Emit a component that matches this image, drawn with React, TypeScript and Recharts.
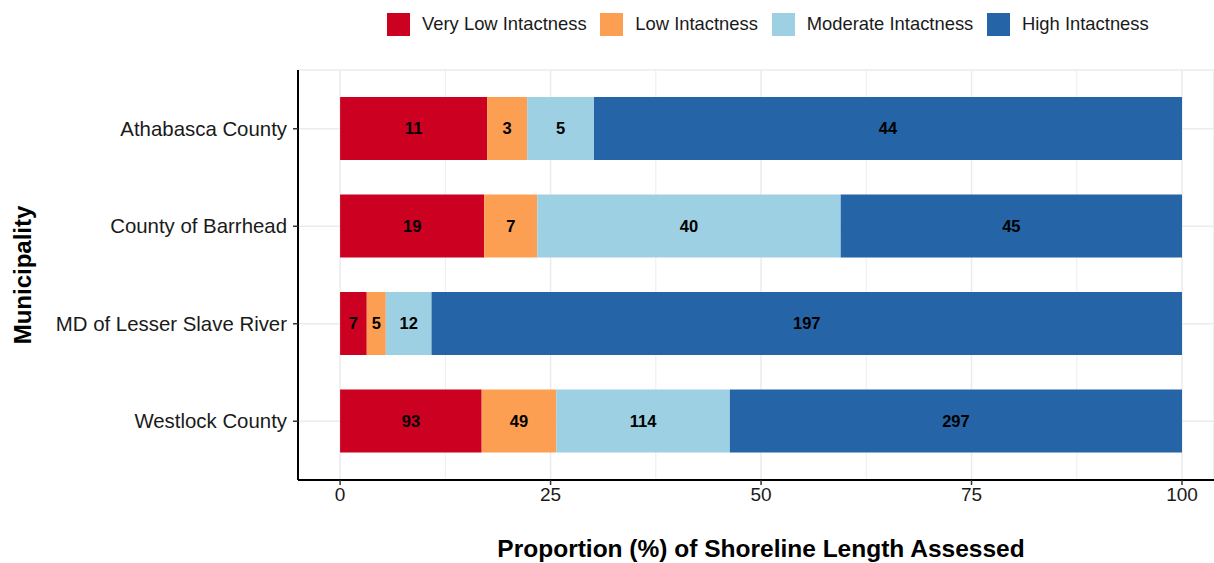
import React from 'react';
import { BarChart, Bar, XAxis, YAxis, CartesianGrid, Legend, LabelList, Label } from 'recharts';

const municipalities = ['Athabasca County', 'County of Barrhead', 'MD of Lesser Slave River', 'Westlock County'];
const veryLow = [11, 19, 7, 93];
const low = [3, 7, 5, 49];
const moderate = [5, 40, 12, 114];
const high = [44, 45, 197, 297];
const seriesKeys = ['veryLow', 'low', 'moderate', 'high'];
const seriesNames = ['Very Low Intactness', 'Low Intactness', 'Moderate Intactness', 'High Intactness'];
const seriesColors = ['#CC0020', '#FC9F52', '#9ED0E3', '#2565A7'];
const majorTicks = [0, 25, 50, 75, 100];
const minorTicks = [12.5, 37.5, 62.5, 87.5];
const xDomain = [-5, 103.8];

const data = municipalities.map((name, i) => {
  const counts: Record<string, number> = { veryLow: veryLow[i], low: low[i], moderate: moderate[i], high: high[i] };
  const total = veryLow[i] + low[i] + moderate[i] + high[i];
  const row: Record<string, any> = { name, ...counts };
  seriesKeys.forEach((k) => {
    row[k + 'Pct'] = (counts[k] / total) * 100;
  });
  return row;
});

const FONT = '"Liberation Sans", Arial, Helvetica, sans-serif';

const LegendContent = () => (
  <div style={{ display: 'flex', alignItems: 'center', height: 48, paddingLeft: 387, fontFamily: FONT }}>
    {seriesNames.map((n, i) => (
      <div key={n} style={{ display: 'flex', alignItems: 'center', marginRight: 13.7 }}>
        <div style={{ width: 23, height: 23, background: seriesColors[i], marginRight: 12 }} />
        <span style={{ fontSize: 18.4, color: '#1a1a1a', whiteSpace: 'nowrap' }}>{n}</span>
      </div>
    ))}
  </div>
);

export default function App() {
  return (
    <div style={{ position: 'absolute', left: 0, top: 0, width: 1214, height: 563, background: '#fff', fontFamily: FONT }}>
      <BarChart
        width={1214}
        height={563}
        data={data}
        layout="vertical"
        barSize={63}
        margin={{ top: 22, right: 0, bottom: 0, left: 0 }}
      >
        <CartesianGrid xAxisId="minor" horizontal={false} stroke="#EDEDED" strokeWidth={1} />
        <CartesianGrid stroke="#EBEBEB" strokeWidth={1.5} />
        <Legend verticalAlign="top" align="left" content={LegendContent} wrapperStyle={{ top: 0, left: 0 }} />
        <XAxis
          type="number"
          domain={xDomain}
          ticks={majorTicks}
          allowDataOverflow
          height={83}
          tick={{ fontSize: 19, fill: '#1a1a1a' }}
          tickSize={5}
          tickMargin={3}
          tickLine={{ stroke: '#333', strokeWidth: 1.5 }}
          axisLine={{ stroke: '#000', strokeWidth: 2 }}
        >
          <Label
            value="Proportion (%) of Shoreline Length Assessed"
            position="insideBottom"
            offset={6}
            dx={5}
            style={{ fontSize: 24.5, fontWeight: 'bold', fill: '#000' }}
          />
        </XAxis>
        <XAxis xAxisId="minor" type="number" domain={xDomain} ticks={minorTicks} allowDataOverflow hide />
        <YAxis
          type="category"
          dataKey="name"
          width={298}
          padding={{ top: 10, bottom: 10 }}
          tick={{ fontSize: 20.4, fill: '#1a1a1a' }}
          tickSize={5}
          tickMargin={6}
          tickLine={{ stroke: '#333', strokeWidth: 1.5 }}
          axisLine={{ stroke: '#000', strokeWidth: 2 }}
        >
          <Label
            value="Municipality"
            angle={-90}
            position="insideLeft"
            offset={22}
            style={{ fontSize: 24, fontWeight: 'bold', fill: '#000', textAnchor: 'middle' }}
          />
        </YAxis>
        {seriesKeys.map((k, i) => (
          <Bar key={k} dataKey={k + 'Pct'} name={seriesNames[i]} stackId="a" fill={seriesColors[i]} isAnimationActive={false}>
            <LabelList dataKey={k} position="center" fill="#000" fontSize={16.5} fontWeight="bold" />
          </Bar>
        ))}
      </BarChart>
    </div>
  );
}
